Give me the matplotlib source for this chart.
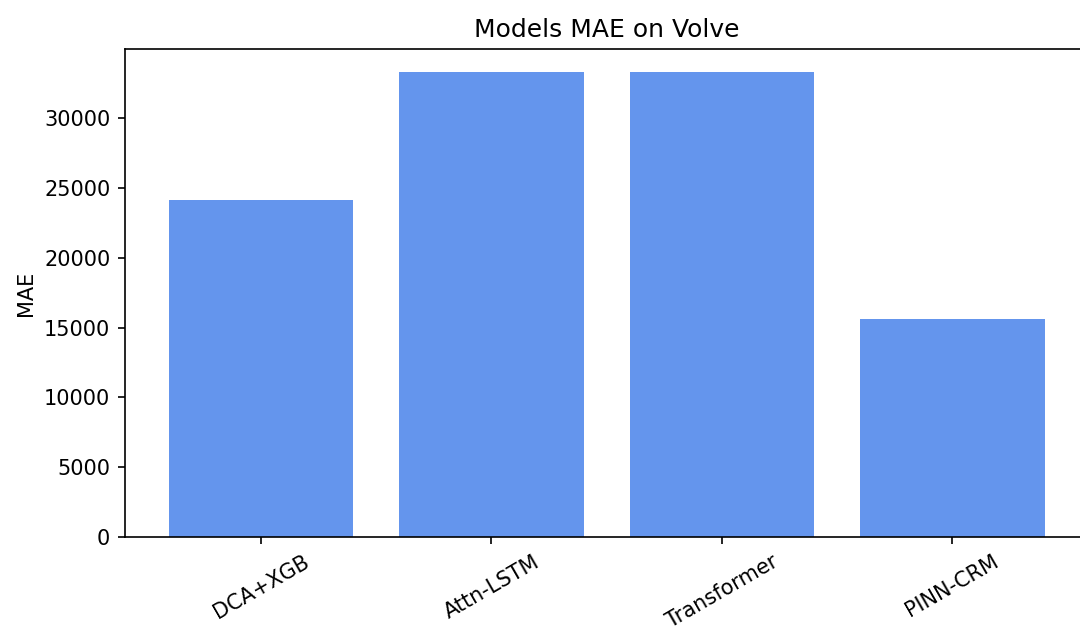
import matplotlib
matplotlib.use("Agg")
import matplotlib.pyplot as plt

# MAE values
models = ["DCA+XGB", "Attn-LSTM", "Transformer", "PINN-CRM"]
mae = [24150, 33300, 33300, 15640]

fig = plt.figure(figsize=(7.2, 631 / 150), dpi=150)
# right spine sits just past the image edge in the reference
ax = fig.add_axes([0.1157, 0.149, 0.892, 0.773])

ax.bar(models, mae, color="cornflowerblue")
ax.set_title("Models MAE on Volve")
ax.set_ylabel("MAE")
plt.setp(ax.get_xticklabels(), rotation=30)

fig.savefig("out.png", dpi=150)
